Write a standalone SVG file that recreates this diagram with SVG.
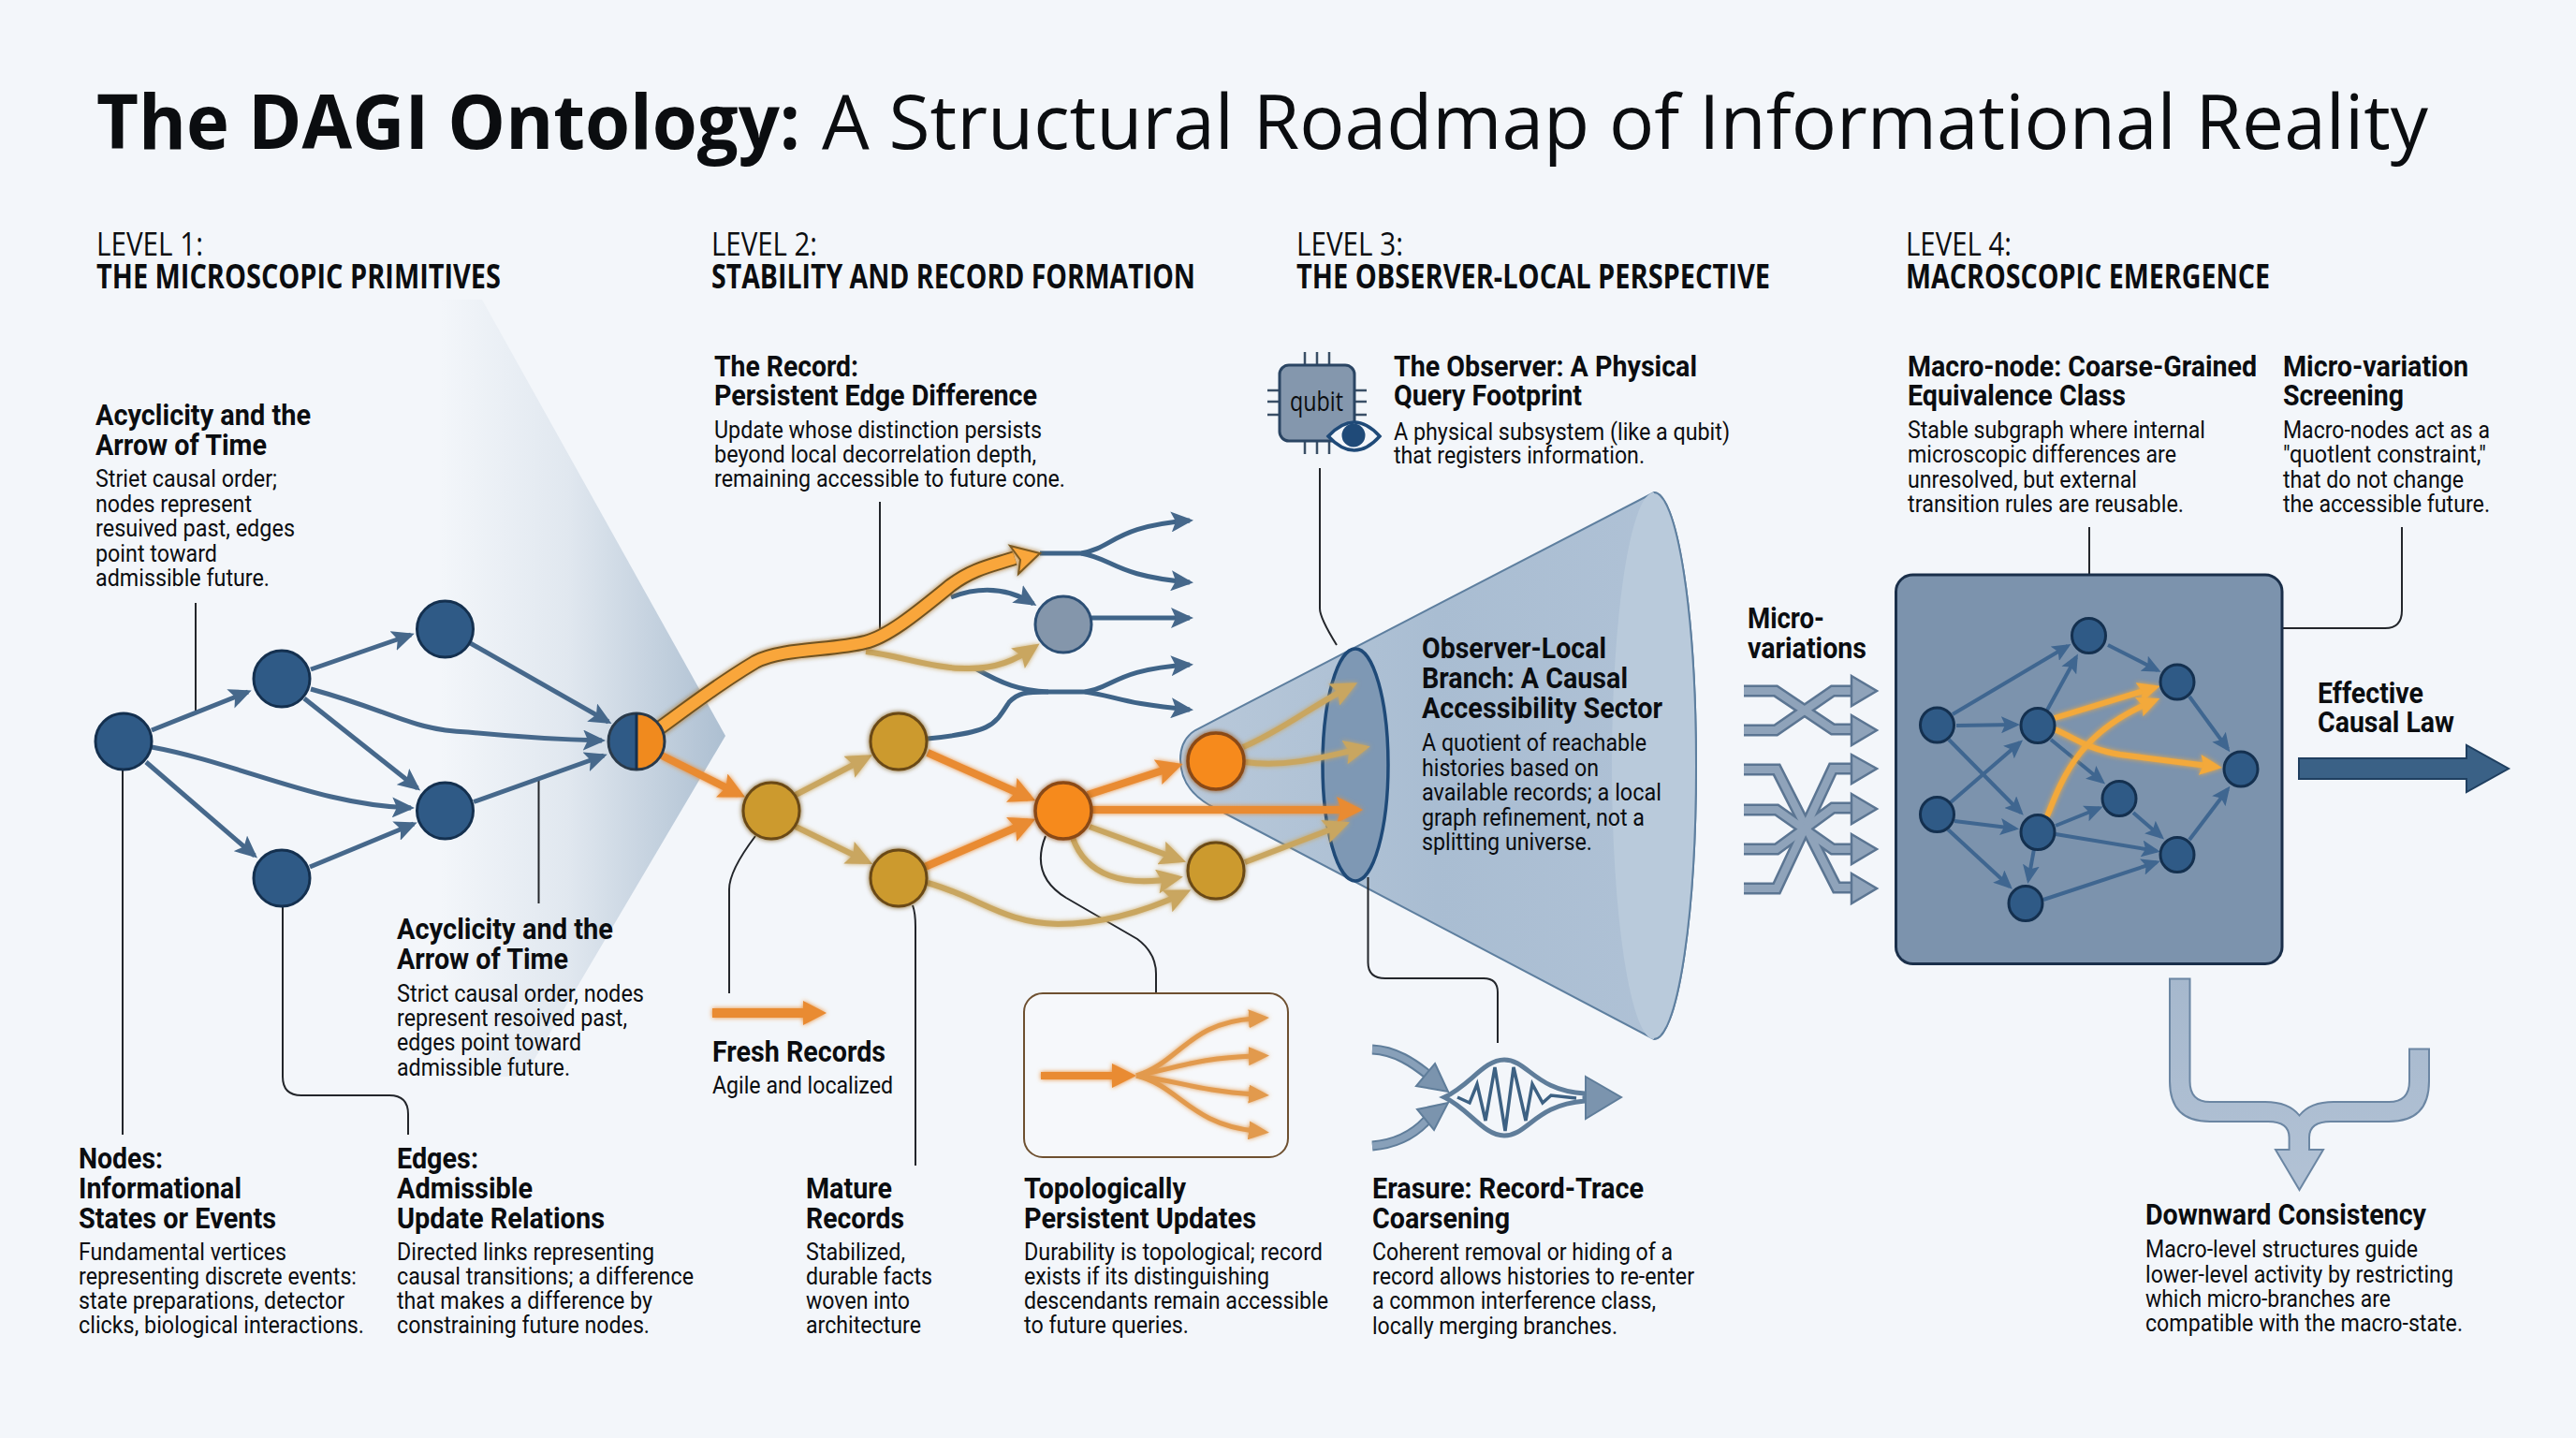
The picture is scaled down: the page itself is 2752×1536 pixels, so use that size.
<svg xmlns="http://www.w3.org/2000/svg" width="2752" height="1536" viewBox="0 0 2752 1536">
<style>
text{fill:#0b0d10;font-family:"Roboto","Liberation Sans",sans-serif;}
.t{font-family:"Open Sans","Noto Sans",sans-serif;font-size:80px;font-weight:500;}
.tb{font-weight:700;}
.l{font-family:"Open Sans","Noto Sans",sans-serif;font-size:35px;}
.lb{font-weight:700;}
.h{font-size:32px;font-weight:700;}
.b{font-size:26px;}
.ln{fill:none;stroke:#23262b;stroke-width:2;}
.nb{fill:#2f5a86;stroke:#14304f;stroke-width:3;}
.ng{fill:#cc9a2e;stroke:#6b4a18;stroke-width:3;}
.no{fill:#f68a1e;stroke:#8a4a16;stroke-width:3.5;}
.e{fill:none;stroke:#46688b;stroke-width:5;marker-end:url(#ab);}
.u{fill:none;stroke:#3f6488;stroke-width:5;}
.ua{marker-end:url(#ab);}
.o{fill:none;stroke:#e98b33;stroke-width:8;marker-end:url(#ao);}
.y{fill:none;stroke:#c9a661;stroke-width:6;marker-end:url(#at);}
.m{fill:none;stroke:#3f6690;stroke-width:4;marker-end:url(#am);}
.mg{fill:none;stroke:#f3a93a;stroke-width:6;marker-end:url(#ay);}
.x1{fill:none;stroke:#5b7592;stroke-width:13;stroke-linejoin:miter;}
.x2{fill:none;stroke:#8fa3ba;stroke-width:8;stroke-linejoin:miter;}
.xh{fill:#8fa3ba;stroke:#5b7592;stroke-width:2.5;}
</style>
<defs>
<linearGradient id="fan" gradientUnits="userSpaceOnUse" x1="470" y1="0" x2="775" y2="0">
<stop offset="0" stop-color="#a9bccf" stop-opacity="0"/><stop offset="0.45" stop-color="#a9bccf" stop-opacity="0.25"/><stop offset="1" stop-color="#a9bccf" stop-opacity="0.95"/>
</linearGradient>
<linearGradient id="cone" gradientUnits="userSpaceOnUse" x1="1260" y1="0" x2="1810" y2="0">
<stop offset="0" stop-color="#b9c9da"/><stop offset="0.5" stop-color="#a9bdd2"/><stop offset="1" stop-color="#b0c2d6"/>
</linearGradient>
<linearGradient id="dn" x1="0" y1="0" x2="0" y2="1">
<stop offset="0" stop-color="#a6b8cd"/><stop offset="1" stop-color="#b2c2d5"/>
</linearGradient>
<filter id="glow" x="-20%" y="-20%" width="140%" height="140%">
<feGaussianBlur in="SourceGraphic" stdDeviation="2.500" result="b"/>
<feMerge><feMergeNode in="b"/><feMergeNode in="SourceGraphic"/></feMerge>
</filter>
<marker id="ab" markerUnits="userSpaceOnUse" markerWidth="24" markerHeight="22" viewBox="0 0 24 22" refX="20" refY="11" orient="auto"><path d="M0,0L24,11L0,22L5,11Z" fill="#46688b"/></marker>
<marker id="ao" markerUnits="userSpaceOnUse" markerWidth="28" markerHeight="28" viewBox="0 0 28 28" refX="20" refY="14" orient="auto"><path d="M0,0L28,14L0,28L5,14Z" fill="#e98b33"/></marker>
<marker id="at" markerUnits="userSpaceOnUse" markerWidth="28" markerHeight="26" viewBox="0 0 28 26" refX="20" refY="13" orient="auto"><path d="M0,0L28,13L0,26L5,13Z" fill="#c9a661"/></marker>
<marker id="am" markerUnits="userSpaceOnUse" markerWidth="20" markerHeight="18" viewBox="0 0 20 18" refX="16" refY="9" orient="auto"><path d="M0,0L20,9L0,18L4,9Z" fill="#3f6690"/></marker>
<marker id="ay" markerUnits="userSpaceOnUse" markerWidth="24" markerHeight="22" viewBox="0 0 24 22" refX="16" refY="11" orient="auto"><path d="M0,0L24,11L0,22L4,11Z" fill="#f3a93a"/></marker>
<marker id="ag" markerUnits="userSpaceOnUse" markerWidth="22" markerHeight="20" viewBox="0 0 22 20" refX="6" refY="10" orient="auto"><path d="M0,0L22,10L0,20Z" fill="#e29a4e"/></marker>
</defs>
<rect width="2752" height="1536" fill="#f3f6fa"/>
<g id="fan-shade"><path d="M515,320L775,786L560,1150L470,1150L470,320Z" fill="url(#fan)"/></g>

<g id="cone-shape">
<path d="M1277,780Q1261,790 1261,811Q1261,842 1292,860L1767,1110A45,292 0 0 0 1767,526Z" fill="url(#cone)" stroke="#5e7f9f" stroke-width="2"/>
<path d="M1767,526A45,292 0 0 1 1767,1110A45,292 0 0 1 1767,526Z" fill="#b9cadb"/>
<path d="M1767,526A45,292 0 0 1 1767,1110" fill="none" stroke="#5e7f9f" stroke-width="2"/>
<ellipse cx="1448" cy="817" rx="35" ry="124" fill="#7e98b4" stroke="#1f4a78" stroke-width="3.5"/>
</g>

<g id="connectors">
<g id="leader-lines">
<path class="ln" d="M209,644V759"/>
<path class="ln" d="M575.5,832V965"/>
<path class="ln" d="M131,822V1212"/>
<path class="ln" d="M302,968V1150Q302,1170 322,1170H416Q436,1170 436,1190V1212"/>
<path class="ln" d="M940,536V679"/>
<path class="ln" d="M807,893Q779,930 779,950V1061"/>
<path class="ln" d="M975,967Q978,975 978,990V1245"/>
<path class="ln" d="M1117,893Q1100,935 1139,959L1215,1003Q1235,1018 1235,1040V1061"/>
<path class="ln" d="M1410,500V650Q1410,660 1428,689"/>
<path class="ln" d="M1461.5,937V1028Q1461.5,1045 1480,1045H1585Q1600,1045 1600,1060V1114"/>
<path class="ln" d="M2232,563V614"/>
<path class="ln" d="M2566,563V652Q2566,671 2548,671H2438"/>
</g>
<g id="level1-edges">
<path class="e" d="M162,780L265,739"/>
<path class="e" d="M162,798C255,815 340,860 439,863"/>
<path class="e" d="M156,814L272,914"/>
<path class="e" d="M332,715L439,678"/>
<path class="e" d="M332,736C420,760 440,780 500,782C560,788 600,790 643,791"/>
<path class="e" d="M325,746L446,842"/>
<path class="e" d="M331,926L442,880"/>
<path class="e" d="M502.5,687L650,771"/>
<path class="e" d="M506,856.5L645,807"/>
</g>
<g id="level2-edges">
<path class="u ua" d="M1111,591H1155C1190,585 1190,562 1271,556"/>
<path class="u ua" d="M1155,591C1190,597 1190,615 1271,622"/>
<path class="u ua" d="M1016,638C1050,625 1080,630 1104,645"/>
<path class="u ua" d="M1166,660H1271"/>
<path class="u" d="M1042,714C1070,730 1090,738 1120,739H1159"/>
<path class="u" d="M991,789C1060,782 1062,775 1078,750C1088,740 1095,739 1120,739"/>
<path class="u ua" d="M1159,739C1190,735 1190,715 1271,710"/>
<path class="u ua" d="M1159,739C1190,743 1200,752 1271,758"/>
<g filter="url(#glow)">
<path class="y" d="M925,696C960,700 1000,715 1035,714C1065,714 1085,705 1104,692"/>
<path class="o" d="M707,807L789,848"/>
<path class="y" d="M850,849L925,810"/>
<path class="y" d="M850,883L925,919.5"/>
<path class="o" d="M991,804L1099,852"/>
<path class="o" d="M988,926L1099,878"/>
<path class="o" d="M1162,849L1256,818.5"/>
<path class="o" d="M1167,865L1448,865"/>
<path class="y" d="M1164,883L1259.5,918"/>
<path class="y" d="M1146,895C1160,935 1200,948 1256,938"/>
<path class="y" d="M991,943C1050,960 1070,985 1130,987C1175,987 1220,975 1265,954"/>
<path class="y" d="M1328,798C1370,780 1400,755 1443,733"/>
<path class="y" d="M1330,814C1370,820 1410,810 1456,799"/>
<path class="y" d="M1330,921L1434.5,881"/>
</g>
<g id="main-orange" filter="url(#glow)">
<path d="M700,781C730,760 760,735 807,707C835,692 890,695 924,686C950,680 985,650 1016,625C1040,607 1060,604 1084,596" fill="none" stroke="#6f5222" stroke-width="16"/>
<path d="M700,781C730,760 760,735 807,707C835,692 890,695 924,686C950,680 985,650 1016,625C1040,607 1060,604 1084,596" fill="none" stroke="#f9a63a" stroke-width="12"/>
<path d="M1079,583L1111,591L1088,613L1090,598Z" fill="#f9a63a" stroke="#7d5a20" stroke-width="2"/>
</g>
</g>
</g>

<g id="nodes-level1">
<g id="n-a"><circle class="nb" cx="132" cy="792" r="30"/></g>
<g id="n-b"><circle class="nb" cx="301" cy="725" r="30"/></g>
<g id="n-c"><circle class="nb" cx="475.500" cy="672" r="30"/></g>
<g id="n-d"><circle class="nb" cx="475.500" cy="866" r="30"/></g>
<g id="n-e"><circle class="nb" cx="301" cy="938" r="30"/></g>
<g id="n-half">
<path d="M680,762A30,30 0 0 0 680,822Z" fill="#2f5a86"/>
<path d="M680,762A30,30 0 0 1 680,822Z" fill="#f08a1e"/>
<circle cx="680" cy="792" r="30" fill="none" stroke="#2a3a4a" stroke-width="3"/>
<path d="M680,762V822" stroke="#14304f" stroke-width="3"/>
</g>
</g>
<g id="nodes-level2" filter="url(#glow)">
<g id="n-g1"><circle class="ng" cx="824" cy="866" r="30"/></g>
<g id="n-g2"><circle class="ng" cx="960" cy="792" r="30"/></g>
<g id="n-g3"><circle class="ng" cx="960" cy="938" r="30"/></g>
<g id="n-o1"><circle class="no" cx="1136" cy="866" r="30"/></g>
<g id="n-o2"><circle class="no" cx="1299" cy="813" r="30"/></g>
<g id="n-g4"><circle class="ng" cx="1299" cy="930" r="30"/></g>
</g>
<g id="n-grey"><circle cx="1136" cy="667" r="30" fill="#8496ab" stroke="#2c4f75" stroke-width="3"/></g>

<g id="fresh-arrow" filter="url(#glow)"><path d="M761,1077H858V1069L883,1082L858,1095V1087H761Z" fill="#e98b33"/></g>
<g id="inset-box">
<rect x="1094" y="1061" width="282" height="175" rx="20" fill="#f6f8fb" stroke="#6e5030" stroke-width="2"/>
<g filter="url(#glow)">
<path d="M1112,1149H1190" stroke="#e98b33" stroke-width="8" fill="none"/>
<path d="M1188,1136L1214,1149L1188,1162Z" fill="#e98b33"/>
<g fill="none" stroke="#e29a4e" stroke-width="5">
<path d="M1214,1149C1260,1135 1270,1092 1340,1088" marker-end="url(#ag)"/>
<path d="M1214,1149C1260,1140 1280,1130 1340,1128" marker-end="url(#ag)"/>
<path d="M1214,1149C1260,1155 1280,1165 1340,1169" marker-end="url(#ag)"/>
<path d="M1214,1149C1260,1160 1270,1200 1340,1208" marker-end="url(#ag)"/>
</g>
</g>
</g>

<g id="qubit-chip">
<g stroke="#3a4f66" stroke-width="2.500" fill="none">
<path d="M1394,376V390M1407,376V390M1420,376V390M1394,471V485M1407,471V485M1420,471V485M1354,417H1367M1354,429H1367M1354,443H1367M1447,417H1460M1447,429H1460M1447,443H1460"/>
</g>
<rect x="1367" y="390" width="80" height="81" rx="10" fill="#8497ad" stroke="#2a4563" stroke-width="3"/>
<text x="1378" y="439" class="b" style="font-size:30px;font-family:'Open Sans',sans-serif" textLength="57" lengthAdjust="spacingAndGlyphs">qubit</text>
<path d="M1419,466Q1447,436 1474,466Q1447,496 1419,466Z" fill="#f3f6fa" stroke="#1f4a78" stroke-width="3.500"/>
<circle cx="1446" cy="465" r="12.500" fill="#1f4a78"/>
</g>

<g id="erasure-icon">
<path d="M1466,1121C1490,1122 1510,1135 1528,1150" fill="none" stroke="#5f7d9a" stroke-width="11"/>
<path d="M1466,1121C1490,1122 1510,1135 1528,1150" fill="none" stroke="#88a0b9" stroke-width="7"/>
<path d="M1533,1136L1547,1166L1513,1160Z" fill="#7b94ae" stroke="#5f7d9a" stroke-width="2"/>
<path d="M1466,1224C1490,1222 1510,1212 1524,1197" fill="none" stroke="#5f7d9a" stroke-width="11"/>
<path d="M1466,1224C1490,1222 1510,1212 1524,1197" fill="none" stroke="#88a0b9" stroke-width="7"/>
<path d="M1547,1178L1514,1185L1532,1207Z" fill="#7b94ae" stroke="#5f7d9a" stroke-width="2"/>
<path d="M1543,1172C1570,1160 1585,1132 1607,1132C1632,1132 1640,1165 1693,1168V1176C1640,1180 1632,1213 1607,1213C1585,1213 1570,1185 1543,1172Z" fill="#f3f6fa" stroke="#5f7d9a" stroke-width="5"/>
<path d="M1557,1172L1570,1178L1578,1158L1587,1197L1597,1140L1608,1208L1617,1140L1630,1197L1637,1158L1648,1178L1657,1170L1684,1173" fill="none" stroke="#3d6183" stroke-width="3.500"/>
<path d="M1694,1150L1732,1172L1694,1195Z" fill="#7b94ae" stroke="#5f7d9a" stroke-width="2"/>
</g>

<g id="macro-node">
<rect x="2025.500" y="614" width="412.500" height="415.500" rx="18" fill="#7c93ad" stroke="#1a2f4a" stroke-width="3"/>
<g id="macro-edges">
<path class="m" d="M2086,763L2209,690"/>
<path class="m" d="M2187,758.500L2218,702"/>
<path class="m" d="M2090,775L2154,774"/>
<path class="m" d="M2082,790L2159,868"/>
<path class="m" d="M2084,857L2158,793"/>
<path class="m" d="M2088,877L2153,885"/>
<path class="m" d="M2081,886L2147,947"/>
<path class="m" d="M2252,689L2305,716"/>
<path class="m" d="M2339,744L2380,800"/>
<path class="m" d="M2339,897L2380,843"/>
<path class="m" d="M2191,790L2246,835"/>
<path class="m" d="M2196,882L2243,863"/>
<path class="m" d="M2196,891L2304,909"/>
<path class="m" d="M2279,868L2309,894"/>
<path class="m" d="M2173,907L2167,940"/>
<path class="m" d="M2183,961L2304,921"/>
<g filter="url(#glow)">
<path class="mg" d="M2195,767L2300,735"/>
<path class="mg" d="M2195,779C2220,790 2230,800 2265,806L2366,819"/>
<path class="mg" d="M2187,872C2205,825 2225,780 2300,749"/>
</g>
</g>
<g id="macro-nodes">
<ellipse class="nb" cx="2231.500" cy="679" rx="18" ry="18.500"/>
<ellipse class="nb" cx="2326" cy="728.500" rx="18" ry="18.500"/>
<ellipse class="nb" cx="2069.500" cy="774.500" rx="18" ry="18.500"/>
<ellipse class="nb" cx="2177" cy="775" rx="18" ry="18.500"/>
<ellipse class="nb" cx="2394" cy="821.500" rx="18" ry="18.500"/>
<ellipse class="nb" cx="2264" cy="853" rx="18" ry="18.500"/>
<ellipse class="nb" cx="2069.500" cy="870" rx="18" ry="18.500"/>
<ellipse class="nb" cx="2177" cy="889" rx="18" ry="18.500"/>
<ellipse class="nb" cx="2326" cy="913" rx="18" ry="18.500"/>
<ellipse class="nb" cx="2164" cy="965" rx="18" ry="18.500"/>
</g>
</g>

<g id="micro-variations">
<g class="x1"><path d="M1863,738H1897L1958,779H1980"/><path d="M1863,780H1897L1958,738H1980"/><path d="M1863,822H1898L1962,948H1980"/><path d="M1863,949H1898L1958,821H1980"/><path d="M1863,865H1898L1958,907H1980"/><path d="M1863,907H1898L1958,863H1980"/></g>
<g class="x2"><path d="M1863,738H1897L1958,779H1980"/><path d="M1863,780H1897L1958,738H1980"/><path d="M1863,822H1898L1962,948H1980"/><path d="M1863,949H1898L1958,821H1980"/><path d="M1863,865H1898L1958,907H1980"/><path d="M1863,907H1898L1958,863H1980"/></g>
<path class="xh" d="M1978,722L2005,738L1978,754Z"/>
<path class="xh" d="M1978,764L2005,780L1978,796Z"/>
<path class="xh" d="M1978,806L2005,821L1978,837Z"/>
<path class="xh" d="M1978,848L2005,864L1978,880Z"/>
<path class="xh" d="M1978,891L2005,907L1978,923Z"/>
<path class="xh" d="M1978,933L2005,949L1978,965Z"/>
</g>

<g id="effective-arrow"><path d="M2456,810H2635V796L2680,821L2635,846V832H2456Z" fill="#3a6186" stroke="#1f3f60" stroke-width="2"/></g>
<g id="downward-arrow"><path d="M2318,1045.500H2339.500V1155Q2339.500,1177 2361,1177H2420Q2445,1177 2456.500,1191.500Q2468,1177 2493,1177H2552Q2574,1177 2574,1155V1120.500H2595V1155Q2595,1198 2552,1198H2490Q2467,1198 2467,1215V1228H2482L2456.500,1271L2431,1228H2445.600V1215Q2445.600,1198 2423,1198H2361Q2318,1198 2318,1155Z" fill="url(#dn)" stroke="#6b86a3" stroke-width="2"/></g>

<g id="title">
<text class="t" y="159"><tspan class="tb" x="103" textLength="752" lengthAdjust="spacingAndGlyphs">The DAGI Ontology:</tspan><tspan x="878" textLength="1716" lengthAdjust="spacingAndGlyphs">A Structural Roadmap of Informational Reality</tspan></text>
</g>
<g id="levels">
<text class="l" x="103" y="273" textLength="114" lengthAdjust="spacingAndGlyphs">LEVEL 1:</text>
<text class="l lb" x="103" y="308" textLength="432" lengthAdjust="spacingAndGlyphs">THE MICROSCOPIC PRIMITIVES</text>
<text class="l" x="760" y="273" textLength="113" lengthAdjust="spacingAndGlyphs">LEVEL 2:</text>
<text class="l lb" x="760" y="308" textLength="517" lengthAdjust="spacingAndGlyphs">STABILITY AND RECORD FORMATION</text>
<text class="l" x="1385" y="273" textLength="114" lengthAdjust="spacingAndGlyphs">LEVEL 3:</text>
<text class="l lb" x="1385" y="308" textLength="506" lengthAdjust="spacingAndGlyphs">THE OBSERVER-LOCAL PERSPECTIVE</text>
<text class="l" x="2036" y="273" textLength="113" lengthAdjust="spacingAndGlyphs">LEVEL 4:</text>
<text class="l lb" x="2036" y="308" textLength="389" lengthAdjust="spacingAndGlyphs">MACROSCOPIC EMERGENCE</text>
</g>

<g id="label-acyclicity-1">
<text class="h" x="102" y="454" textLength="230" lengthAdjust="spacingAndGlyphs">Acyclicity and the</text>
<text class="h" x="102" y="486" textLength="183" lengthAdjust="spacingAndGlyphs">Arrow of Time</text>
<text class="b" x="102" y="520" textLength="194" lengthAdjust="spacingAndGlyphs">Striet causal order;</text>
<text class="b" x="102" y="547" textLength="167" lengthAdjust="spacingAndGlyphs">nodes represent</text>
<text class="b" x="102" y="573" textLength="213" lengthAdjust="spacingAndGlyphs">resuived past, edges</text>
<text class="b" x="102" y="600" textLength="130" lengthAdjust="spacingAndGlyphs">point toward</text>
<text class="b" x="102" y="626" textLength="186" lengthAdjust="spacingAndGlyphs">admissible future.</text>
</g>
<g id="label-acyclicity-2">
<text class="h" x="424" y="1003" textLength="231" lengthAdjust="spacingAndGlyphs">Acyclicity and the</text>
<text class="h" x="424" y="1035" textLength="183" lengthAdjust="spacingAndGlyphs">Arrow of Time</text>
<text class="b" x="424" y="1070" textLength="264" lengthAdjust="spacingAndGlyphs">Strict causal order, nodes</text>
<text class="b" x="424" y="1096" textLength="246" lengthAdjust="spacingAndGlyphs">represent resoived past,</text>
<text class="b" x="424" y="1122" textLength="197" lengthAdjust="spacingAndGlyphs">edges point toward</text>
<text class="b" x="424" y="1149" textLength="185" lengthAdjust="spacingAndGlyphs">admissible future.</text>
</g>
<g id="label-nodes">
<text class="h" x="84" y="1248" textLength="90" lengthAdjust="spacingAndGlyphs">Nodes:</text>
<text class="h" x="84" y="1280" textLength="174" lengthAdjust="spacingAndGlyphs">Informational</text>
<text class="h" x="84" y="1312" textLength="211" lengthAdjust="spacingAndGlyphs">States or Events</text>
<text class="b" x="84" y="1346" textLength="222" lengthAdjust="spacingAndGlyphs">Fundamental vertices</text>
<text class="b" x="84" y="1372" textLength="297" lengthAdjust="spacingAndGlyphs">representing discrete events:</text>
<text class="b" x="84" y="1398" textLength="284" lengthAdjust="spacingAndGlyphs">state preparations, detector</text>
<text class="b" x="84" y="1424" textLength="305" lengthAdjust="spacingAndGlyphs">clicks, biological interactions.</text>
</g>
<g id="label-edges">
<text class="h" x="424" y="1248" textLength="87" lengthAdjust="spacingAndGlyphs">Edges:</text>
<text class="h" x="424" y="1280" textLength="145" lengthAdjust="spacingAndGlyphs">Admissible</text>
<text class="h" x="424" y="1312" textLength="222" lengthAdjust="spacingAndGlyphs">Update Relations</text>
<text class="b" x="424" y="1346" textLength="275" lengthAdjust="spacingAndGlyphs">Directed links representing</text>
<text class="b" x="424" y="1372" textLength="317" lengthAdjust="spacingAndGlyphs">causal transitions; a difference</text>
<text class="b" x="424" y="1398" textLength="273" lengthAdjust="spacingAndGlyphs">that makes a difference by</text>
<text class="b" x="424" y="1424" textLength="270" lengthAdjust="spacingAndGlyphs">constraining future nodes.</text>
</g>
<g id="label-record">
<text class="h" x="763" y="402" textLength="154" lengthAdjust="spacingAndGlyphs">The Record:</text>
<text class="h" x="763" y="433" textLength="345" lengthAdjust="spacingAndGlyphs">Persistent Edge Difference</text>
<text class="b" x="763" y="468" textLength="350" lengthAdjust="spacingAndGlyphs">Update whose distinction persists</text>
<text class="b" x="763" y="494" textLength="344" lengthAdjust="spacingAndGlyphs">beyond local decorrelation depth,</text>
<text class="b" x="763" y="520" textLength="375" lengthAdjust="spacingAndGlyphs">remaining accessible to future cone.</text>
</g>
<g id="label-fresh">
<text class="h" x="761" y="1134" textLength="185" lengthAdjust="spacingAndGlyphs">Fresh Records</text>
<text class="b" x="761" y="1168" textLength="193" lengthAdjust="spacingAndGlyphs">Agile and localized</text>
</g>
<g id="label-mature">
<text class="h" x="861" y="1280" textLength="92" lengthAdjust="spacingAndGlyphs">Mature</text>
<text class="h" x="861" y="1312" textLength="105" lengthAdjust="spacingAndGlyphs">Records</text>
<text class="b" x="861" y="1346" textLength="106" lengthAdjust="spacingAndGlyphs">Stabilized,</text>
<text class="b" x="861" y="1372" textLength="135" lengthAdjust="spacingAndGlyphs">durable facts</text>
<text class="b" x="861" y="1398" textLength="111" lengthAdjust="spacingAndGlyphs">woven into</text>
<text class="b" x="861" y="1424" textLength="123" lengthAdjust="spacingAndGlyphs">architecture</text>
</g>
<g id="label-topological">
<text class="h" x="1094" y="1280" textLength="173" lengthAdjust="spacingAndGlyphs">Topologically</text>
<text class="h" x="1094" y="1312" textLength="248" lengthAdjust="spacingAndGlyphs">Persistent Updates</text>
<text class="b" x="1094" y="1346" textLength="319" lengthAdjust="spacingAndGlyphs">Durability is topological; record</text>
<text class="b" x="1094" y="1372" textLength="262" lengthAdjust="spacingAndGlyphs">exists if its distinguishing</text>
<text class="b" x="1094" y="1398" textLength="325" lengthAdjust="spacingAndGlyphs">descendants remain accessible</text>
<text class="b" x="1094" y="1424" textLength="176" lengthAdjust="spacingAndGlyphs">to future queries.</text>
</g>
<g id="label-observer">
<text class="h" x="1489" y="402" textLength="324" lengthAdjust="spacingAndGlyphs">The Observer: A Physical</text>
<text class="h" x="1489" y="433" textLength="201" lengthAdjust="spacingAndGlyphs">Query Footprint</text>
<text class="b" x="1489" y="470" textLength="359" lengthAdjust="spacingAndGlyphs">A physical subsystem (like a qubit)</text>
<text class="b" x="1489" y="495" textLength="268" lengthAdjust="spacingAndGlyphs">that registers information.</text>
</g>
<g id="label-branch">
<text class="h" x="1519" y="703" textLength="197" lengthAdjust="spacingAndGlyphs">Observer-Local</text>
<text class="h" x="1519" y="735" textLength="220" lengthAdjust="spacingAndGlyphs">Branch: A Causal</text>
<text class="h" x="1519" y="767" textLength="257" lengthAdjust="spacingAndGlyphs">Accessibility Sector</text>
<text class="b" x="1519" y="802" textLength="240" lengthAdjust="spacingAndGlyphs">A quotient of reachable</text>
<text class="b" x="1519" y="829" textLength="189" lengthAdjust="spacingAndGlyphs">histories based on</text>
<text class="b" x="1519" y="855" textLength="256" lengthAdjust="spacingAndGlyphs">available records; a local</text>
<text class="b" x="1519" y="882" textLength="238" lengthAdjust="spacingAndGlyphs">graph refinement, not a</text>
<text class="b" x="1519" y="908" textLength="182" lengthAdjust="spacingAndGlyphs">splitting universe.</text>
</g>
<g id="label-erasure">
<text class="h" x="1466" y="1280" textLength="290" lengthAdjust="spacingAndGlyphs">Erasure: Record-Trace</text>
<text class="h" x="1466" y="1312" textLength="147" lengthAdjust="spacingAndGlyphs">Coarsening</text>
<text class="b" x="1466" y="1346" textLength="321" lengthAdjust="spacingAndGlyphs">Coherent removal or hiding of a</text>
<text class="b" x="1466" y="1372" textLength="344" lengthAdjust="spacingAndGlyphs">record allows histories to re-enter</text>
<text class="b" x="1466" y="1398" textLength="303" lengthAdjust="spacingAndGlyphs">a common interference class,</text>
<text class="b" x="1466" y="1425" textLength="262" lengthAdjust="spacingAndGlyphs">locally merging branches.</text>
</g>
<g id="label-macro">
<text class="h" x="2038" y="402" textLength="373" lengthAdjust="spacingAndGlyphs">Macro-node: Coarse-Grained</text>
<text class="h" x="2038" y="433" textLength="233" lengthAdjust="spacingAndGlyphs">Equivalence Class</text>
<text class="b" x="2038" y="468" textLength="318" lengthAdjust="spacingAndGlyphs">Stable subgraph where internal</text>
<text class="b" x="2038" y="494" textLength="287" lengthAdjust="spacingAndGlyphs">microscopic differences are</text>
<text class="b" x="2038" y="521" textLength="245" lengthAdjust="spacingAndGlyphs">unresolved, but external</text>
<text class="b" x="2038" y="547" textLength="295" lengthAdjust="spacingAndGlyphs">transition rules are reusable.</text>
</g>
<g id="label-screening">
<text class="h" x="2439" y="402" textLength="198" lengthAdjust="spacingAndGlyphs">Micro-variation</text>
<text class="h" x="2439" y="433" textLength="129" lengthAdjust="spacingAndGlyphs">Screening</text>
<text class="b" x="2439" y="468" textLength="221" lengthAdjust="spacingAndGlyphs">Macro-nodes act as a</text>
<text class="b" x="2439" y="494" textLength="217" lengthAdjust="spacingAndGlyphs">"quotlent constraint,"</text>
<text class="b" x="2439" y="521" textLength="193" lengthAdjust="spacingAndGlyphs">that do not change</text>
<text class="b" x="2439" y="547" textLength="221" lengthAdjust="spacingAndGlyphs">the accessible future.</text>
</g>
<g id="label-micro">
<text class="h" x="1867" y="671" textLength="82" lengthAdjust="spacingAndGlyphs">Micro-</text>
<text class="h" x="1867" y="703" textLength="127" lengthAdjust="spacingAndGlyphs">variations</text>
</g>
<g id="label-effective">
<text class="h" x="2476" y="751" textLength="113" lengthAdjust="spacingAndGlyphs">Effective</text>
<text class="h" x="2476" y="782" textLength="146" lengthAdjust="spacingAndGlyphs">Causal Law</text>
</g>
<g id="label-downward">
<text class="h" x="2292" y="1308" textLength="300" lengthAdjust="spacingAndGlyphs">Downward Consistency</text>
<text class="b" x="2292" y="1343" textLength="291" lengthAdjust="spacingAndGlyphs">Macro-level structures guide</text>
<text class="b" x="2292" y="1370" textLength="329" lengthAdjust="spacingAndGlyphs">lower-level activity by restricting</text>
<text class="b" x="2292" y="1396" textLength="262" lengthAdjust="spacingAndGlyphs">which micro-branches are</text>
<text class="b" x="2292" y="1422" textLength="339" lengthAdjust="spacingAndGlyphs">compatible with the macro-state.</text>
</g>
</svg>
